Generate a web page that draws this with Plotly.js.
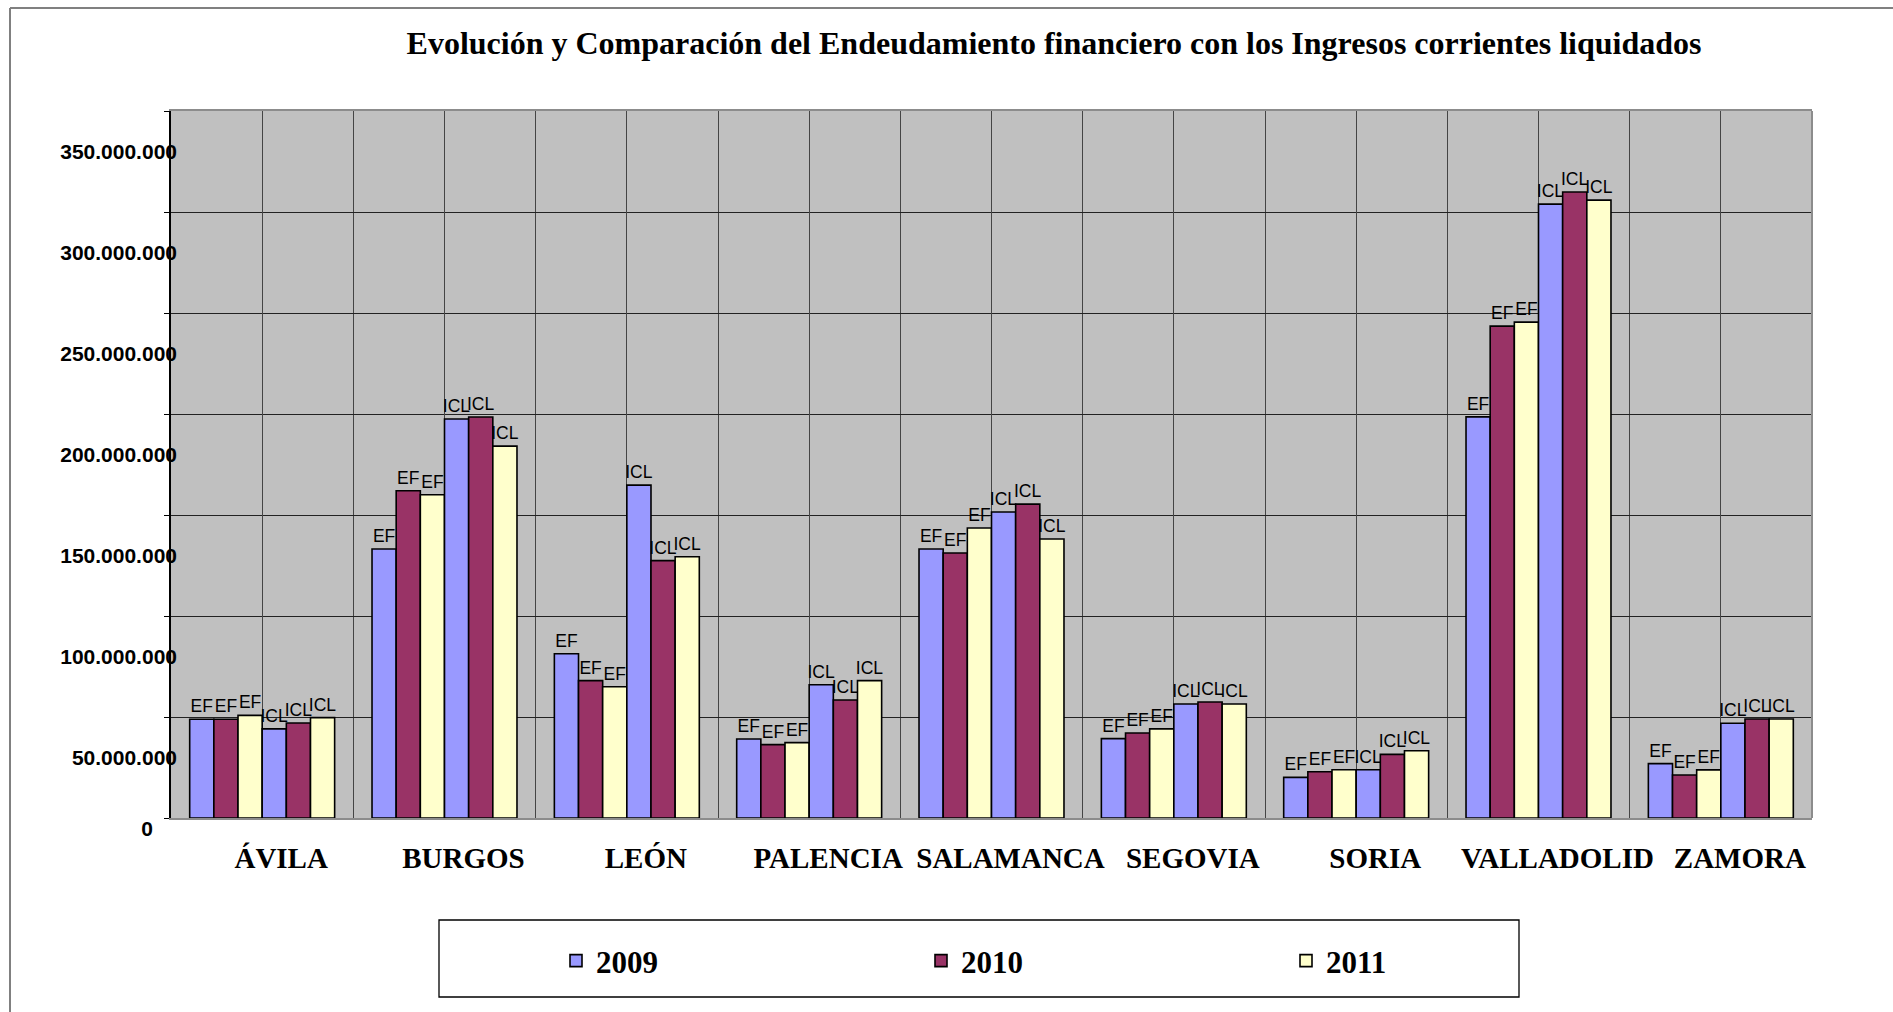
<!DOCTYPE html>
<html>
<head>
<meta charset="utf-8">
<script src="https://cdn.plot.ly/plotly-3.0.1.min.js"></script>
<style>
  html, body { margin: 0; padding: 0; background: #ffffff; }
  #chart { width: 1893px; height: 1012px; }
</style>
</head>
<body>
<div id="chart"></div>
<script>
// ---- Data (euros) ----
const provinces = ['ÁVILA', 'BURGOS', 'LEÓN', 'PALENCIA', 'SALAMANCA', 'SEGOVIA', 'SORIA', 'VALLADOLID', 'ZAMORA'];
const years = ['2009', '2010', '2011'];

// Endeudamiento financiero (EF)
const ef2009 = [48900000, 133200000, 81300000, 39100000, 133200000, 39300000, 20100000, 198600000, 26900000];
const ef2010 = [48900000, 162000000, 68000000, 36300000, 131200000, 42100000, 22900000, 243500000, 21300000];
const ef2011 = [50800000, 160000000, 65000000, 37300000, 143600000, 44100000, 23900000, 245500000, 23800000];

// Ingresos corrientes liquidados (ICL)
const icl2009 = [44100000, 197500000, 164800000, 66000000, 151500000, 56400000, 23900000, 303900000, 46900000];
const icl2010 = [47000000, 198500000, 127400000, 58400000, 155400000, 57400000, 31500000, 309900000, 49000000];
const icl2011 = [49700000, 184100000, 129300000, 68000000, 138100000, 56400000, 33300000, 305900000, 49000000];

const yTicks = [0, 50000000, 100000000, 150000000, 200000000, 250000000, 300000000, 350000000];
const titleText = 'Evolución y Comparación del Endeudamiento financiero con los Ingresos corrientes liquidados';

// ---- Styles ----
const colors = {'2009': '#9999FF', '2010': '#993366', '2011': '#FFFFCC'};
const labelFont = {family: 'Liberation Sans, Arial, sans-serif', size: 17.5, color: '#000000'};

function barTrace(name, values, label, showLegend) {
  return {
    type: 'bar',
    x: provinces,
    y: values,
    name: name,
    legendgroup: name,
    showlegend: showLegend,
    text: values.map(() => label),
    textposition: 'outside',
    textfont: labelFont,
    constraintext: 'none',
    cliponaxis: false,
    hoverinfo: 'x+y+name',
    marker: {color: colors[name], line: {color: '#000000', width: 1.6}}
  };
}

const traces = [
  barTrace('2009', ef2009, 'EF', true),
  barTrace('2010', ef2010, 'EF', true),
  barTrace('2011', ef2011, 'EF', true),
  barTrace('2009', icl2009, 'ICL', false),
  barTrace('2010', icl2010, 'ICL', false),
  barTrace('2011', icl2011, 'ICL', false),
  // helper (invisible) trace so that the overlay axes (centre gridlines, shifted tick labels) are drawn
  {
    type: 'scatter', mode: 'none', xaxis: 'x2', yaxis: 'y2',
    x: provinces.map((p, i) => i), y: provinces.map(() => null),
    showlegend: false, hoverinfo: 'skip'
  }
];

const W = 1893, H = 1012;
const mL = 171, mR = 81, mT = 111, mB = 194;
const pw = W - mL - mR, ph = H - mT - mB;
function px(x) { return (x - mL) / pw; }
function py(y) { return (H - mB - y) / ph; }

const layout = {
  width: W, height: H,
  margin: {l: mL, r: mR, t: mT, b: mB, pad: 0},
  paper_bgcolor: '#ffffff',
  plot_bgcolor: '#C0C0C0',
  separators: ',.',
  barmode: 'group',
  bargap: 0.205,
  bargroupgap: 0,
  title: {
    text: titleText,
    font: {family: 'Liberation Serif, Times New Roman, serif', size: 32, color: '#000000', weight: 'bold'},
    x: 1054 / W, xanchor: 'center', xref: 'container',
    y: 1 - 43 / H, yanchor: 'middle', yref: 'container'
  },
  xaxis: {
    type: 'category',
    tickson: 'boundaries',
    showgrid: true, gridcolor: '#454545', gridwidth: 1,
    ticks: '',
    tickangle: 0,
    showline: true, linecolor: '#8c8c8c', linewidth: 2, mirror: true,
    tickfont: {family: 'Liberation Serif, Times New Roman, serif', size: 29, color: '#000000', weight: 'bold'},
    ticklabelshift: 19,
    ticklabelstandoff: 13,
    fixedrange: true
  },
  xaxis2: {
    type: 'linear',
    overlaying: 'x',
    anchor: 'y',
    range: [-0.5, provinces.length - 0.5],
    tickmode: 'array',
    tickvals: provinces.map((p, i) => i),
    showgrid: true, gridcolor: '#454545', gridwidth: 1,
    showticklabels: false, ticks: '', showline: false, zeroline: false,
    fixedrange: true
  },
  yaxis: {
    range: [yTicks[0], yTicks[yTicks.length - 1]],
    tickmode: 'array',
    tickvals: yTicks,
    ticktext: yTicks.map(v => v === 0 ? '0' : ''),
    showgrid: true, gridcolor: '#222222', gridwidth: 1,
    zeroline: false,
    ticks: 'outside', ticklen: 5, tickcolor: '#000000', tickwidth: 1,
    showline: true, linecolor: '#000000', linewidth: 1.5,
    tickfont: {family: 'Liberation Sans, Arial, sans-serif', size: 21, color: '#000000', weight: 'bold'},
    ticklabelshift: 11,
    ticklabelstandoff: 7,
    fixedrange: true
  },
  yaxis2: {
    overlaying: 'y',
    anchor: 'x',
    side: 'left',
    range: [yTicks[0], yTicks[yTicks.length - 1]],
    tickmode: 'array',
    tickvals: yTicks.slice(1),
    tickformat: ',d',
    showgrid: false, zeroline: false, showline: false, ticks: '',
    tickfont: {family: 'Liberation Sans, Arial, sans-serif', size: 21, color: '#000000', weight: 'bold'},
    ticklabelshift: 41,
    ticklabelstandoff: -7,
    fixedrange: true
  },
  legend: {
    orientation: 'h',
    x: px(556), xanchor: 'left', xref: 'paper',
    y: py(961), yanchor: 'middle', yref: 'paper',
    entrywidth: 320, entrywidthmode: 'pixels',
    font: {family: 'Liberation Serif, Times New Roman, serif', size: 31, color: '#000000', weight: 'bold'},
    bgcolor: 'rgba(0,0,0,0)',
    borderwidth: 0,
    traceorder: 'normal'
  },
  shapes: [
    // legend frame
    {type: 'rect', xref: 'paper', yref: 'paper', x0: px(439), x1: px(1519), y0: py(997), y1: py(920),
     line: {color: '#000000', width: 1.3}, fillcolor: 'rgba(0,0,0,0)', layer: 'above'},
    // plot area right edge
    {type: 'line', xref: 'paper', yref: 'paper', x0: 1, x1: 1, y0: 0, y1: 1,
     line: {color: '#8c8c8c', width: 2}, layer: 'above'},
    // chart outer frame (left and top)
    {type: 'line', xref: 'paper', yref: 'paper', x0: px(10), x1: px(10), y0: py(8), y1: py(1030),
     line: {color: '#808080', width: 2}, layer: 'above'},
    {type: 'line', xref: 'paper', yref: 'paper', x0: px(10), x1: px(1910), y0: py(8), y1: py(8),
     line: {color: '#808080', width: 2}, layer: 'above'}
  ],
  hovermode: 'closest'
};

Plotly.newPlot('chart', traces, layout, {displayModeBar: false, responsive: false});
</script>
</body>
</html>
